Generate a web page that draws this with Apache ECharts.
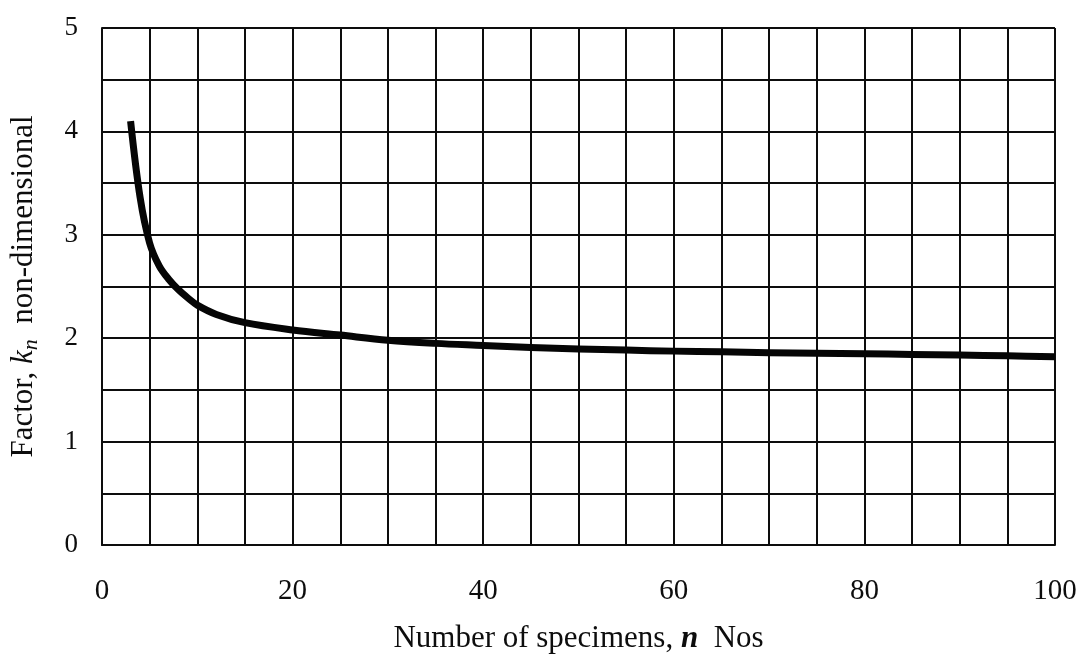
<!DOCTYPE html>
<html>
<head>
<meta charset="utf-8">
<script src="https://cdn.jsdelivr.net/npm/echarts@6/dist/echarts.min.js"></script>
<style>
  html, body { margin: 0; padding: 0; background: #ffffff; }
  #chart { width: 1081px; height: 666px; }
</style>
</head>
<body>
<div id="chart"></div>
<script>
// Tick labels
const xTicks = [0, 20, 40, 60, 80, 100];
const yTicks = [0, 1, 2, 3, 4, 5];
// Curve: number of specimens n vs factor k_n
const nValues = [3, 4, 5, 6, 7, 8, 9, 10, 12, 15, 20, 25, 30, 35, 40, 45, 50, 55, 60, 65, 70, 75, 80, 85, 90, 95, 100];
const kValues = [4.1, 3.36, 2.92, 2.70, 2.57, 2.47, 2.39, 2.32, 2.23, 2.15, 2.08, 2.03, 1.98, 1.95, 1.93, 1.91, 1.895, 1.885, 1.875, 1.868, 1.86, 1.855, 1.85, 1.843, 1.837, 1.83, 1.82];

const FONT = 'Liberation Serif';
const INK = '#0d0d0d';
const gridLine = { color: INK, width: 2 };

const chart = echarts.init(document.getElementById('chart'), null, { renderer: 'canvas' });
chart.setOption({
  backgroundColor: '#ffffff',
  animation: false,
  grid: { left: 100, right: 26, top: 28, bottom: 121 },
  xAxis: {
    type: 'value',
    min: xTicks[0],
    max: xTicks[xTicks.length - 1],
    interval: xTicks[1] - xTicks[0],
    axisLine: { show: true, onZero: false, lineStyle: gridLine },
    axisTick: { show: false },
    axisLabel: { color: INK, fontFamily: FONT, fontSize: 29, margin: 32 },
    splitLine: { show: true, lineStyle: gridLine },
    minorTick: { show: false, splitNumber: 4 },
    minorSplitLine: { show: true, lineStyle: gridLine },
    name: '{a|Number of specimens, }{i|n}{a|  Nos}',
    nameLocation: 'middle',
    nameGap: 78,
    nameTextStyle: {
      color: INK, fontFamily: FONT, fontSize: 31,
      rich: {
        a: { color: INK, fontFamily: FONT, fontSize: 31 },
        i: { color: INK, fontFamily: FONT, fontSize: 31, fontStyle: 'italic', fontWeight: 'bold' }
      }
    }
  },
  yAxis: {
    type: 'value',
    min: yTicks[0],
    max: yTicks[yTicks.length - 1],
    interval: yTicks[1] - yTicks[0],
    axisLine: { show: true, onZero: false, lineStyle: gridLine },
    axisTick: { show: false },
    axisLabel: { color: INK, fontFamily: FONT, fontSize: 27, margin: 24 },
    splitLine: { show: true, lineStyle: gridLine },
    minorTick: { show: false, splitNumber: 2 },
    minorSplitLine: { show: true, lineStyle: gridLine },
    name: '{a|Factor, }{i|k}{s|n}{a|  non-dimensional}',
    nameLocation: 'middle',
    nameGap: 60,
    nameTextStyle: {
      color: INK, fontFamily: FONT, fontSize: 31,
      rich: {
        a: { color: INK, fontFamily: FONT, fontSize: 31 },
        i: { color: INK, fontFamily: FONT, fontSize: 31, fontStyle: 'italic' },
        s: { color: INK, fontFamily: FONT, fontSize: 22, fontStyle: 'italic', padding: [15, 0, 0, 0] }
      }
    }
  },
  series: [{
    type: 'line',
    data: nValues.map((n, i) => [n, kValues[i]]),
    smooth: 0.35,
    showSymbol: false,
    symbol: 'none',
    lineStyle: { color: '#050505', width: 7, cap: 'butt', join: 'round' },
    z: 10
  }]
});
</script>
</body>
</html>
